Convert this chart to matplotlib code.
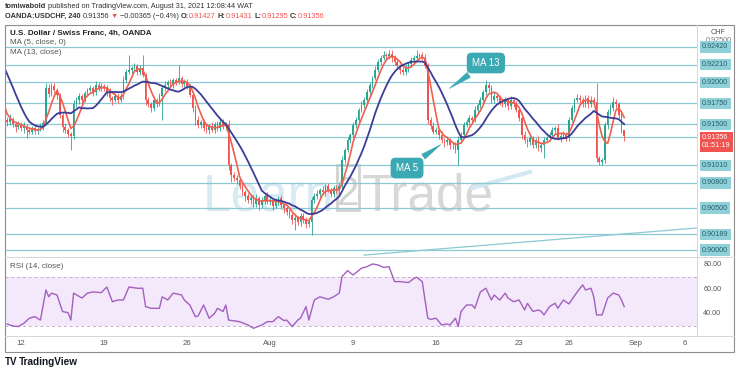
import numpy as np
import pandas as pd
import matplotlib
matplotlib.use("Agg")
import matplotlib.pyplot as plt
from matplotlib.transforms import blended_transform_factory
from matplotlib.lines import Line2D
from matplotlib.patches import Rectangle

plt.rcParams['font.family'] = ['Liberation Sans', 'DejaVu Sans']

# 4h closes, one row per trading day (6 candles). Jul 7-8 only feed the MAs.
closes = [
    [0.92527, 0.92551, 0.92503, 0.92527, 0.92479, 0.92444],  # Jul 7
    [0.92360, 0.92241, 0.92026, 0.91788, 0.91669, 0.91573],  # Jul 8
    [0.91550, 0.91526, 0.91562, 0.91502, 0.91466, 0.91490],  # Jul 9
    [0.91454, 0.91478, 0.91430, 0.91407, 0.91454, 0.91418],  # Jul 12
    [0.91442, 0.91478, 0.91514, 0.91931, 0.91860, 0.91955],  # Jul 13
    [0.91907, 0.91848, 0.91609, 0.91466, 0.91430, 0.91383],  # Jul 14
    [0.91359, 0.91740, 0.91788, 0.91836, 0.91788, 0.91871],  # Jul 15
    [0.91907, 0.91931, 0.91883, 0.91967, 0.91931, 0.91955],  # Jul 16
    [0.91931, 0.91883, 0.91812, 0.91788, 0.91836, 0.91788],  # Jul 19
    [0.91836, 0.92026, 0.92122, 0.92146, 0.92169, 0.92193],  # Jul 20
    [0.92122, 0.92169, 0.92086, 0.91788, 0.91740, 0.91693],  # Jul 21
    [0.91788, 0.91740, 0.91836, 0.91931, 0.91967, 0.92003],  # Jul 22
    [0.91979, 0.92026, 0.92003, 0.92050, 0.91979, 0.92003],  # Jul 23
    [0.91955, 0.91848, 0.91693, 0.91550, 0.91490, 0.91526],  # Jul 26
    [0.91454, 0.91430, 0.91478, 0.91430, 0.91502, 0.91454],  # Jul 27
    [0.91526, 0.91478, 0.91502, 0.91013, 0.90894, 0.90858],  # Jul 28
    [0.90834, 0.90763, 0.90691, 0.90644, 0.90596, 0.90620],  # Jul 29
    [0.90548, 0.90620, 0.90536, 0.90596, 0.90644, 0.90572],  # Jul 30
    [0.90596, 0.90524, 0.90572, 0.90620, 0.90536, 0.90501],  # Aug 2
    [0.90453, 0.90417, 0.90358, 0.90381, 0.90334, 0.90405],  # Aug 3
    [0.90358, 0.90310, 0.90334, 0.90596, 0.90644, 0.90668],  # Aug 4
    [0.90715, 0.90691, 0.90763, 0.90715, 0.90668, 0.90739],  # Aug 5
    [0.90715, 0.90763, 0.91073, 0.91192, 0.91311, 0.91371],  # Aug 6
    [0.91490, 0.91550, 0.91669, 0.91728, 0.91788, 0.91883],  # Aug 9
    [0.91967, 0.92050, 0.92146, 0.92241, 0.92289, 0.92324],  # Aug 10
    [0.92312, 0.92336, 0.92289, 0.92241, 0.92193, 0.92146],  # Aug 11
    [0.92122, 0.92169, 0.92217, 0.92265, 0.92289, 0.92312],  # Aug 12
    [0.92324, 0.92289, 0.92193, 0.91550, 0.91478, 0.91407],  # Aug 13
    [0.91430, 0.91371, 0.91311, 0.91287, 0.91311, 0.91252],  # Aug 16
    [0.91252, 0.91192, 0.91311, 0.91371, 0.91490, 0.91526],  # Aug 17
    [0.91573, 0.91550, 0.91669, 0.91728, 0.91788, 0.91883],  # Aug 18
    [0.91967, 0.91931, 0.91788, 0.91836, 0.91812, 0.91764],  # Aug 19
    [0.91740, 0.91788, 0.91716, 0.91788, 0.91740, 0.91669],  # Aug 20
    [0.91573, 0.91371, 0.91311, 0.91287, 0.91335, 0.91252],  # Aug 23
    [0.91311, 0.91216, 0.91252, 0.91311, 0.91335, 0.91371],  # Aug 24
    [0.91430, 0.91454, 0.91335, 0.91359, 0.91383, 0.91335],  # Aug 25
    [0.91550, 0.91693, 0.91788, 0.91812, 0.91788, 0.91740],  # Aug 26
    [0.91812, 0.91740, 0.91788, 0.91764, 0.91097, 0.91049],  # Aug 27
    [0.91073, 0.91490, 0.91645, 0.91693, 0.91764, 0.91740],  # Aug 30
    [0.91609, 0.91427, 0.91356],                             # Aug 31
]

# wick lengths in pips above / below the candle body
wick_up = [
    [4, 3, 5, 2, 3, 4], [3, 4, 2, 5, 3, 4], [4, 3, 6, 2, 3, 5], [3, 5, 2, 4, 3, 2],
    [2, 4, 3, 6, 5, 3], [4, 3, 2, 3, 5, 2], [2, 5, 3, 4, 2, 3], [3, 4, 2, 5, 3, 4],
    [2, 3, 5, 2, 4, 3], [3, 5, 4, 18, 3, 4], [3, 4, 15, 2, 4, 3], [3, 2, 4, 3, 5, 2],
    [4, 3, 2, 15, 3, 4], [3, 2, 4, 3, 5, 2], [4, 6, 3, 5, 2, 4], [3, 4, 2, 5, 3, 4],
    [4, 3, 5, 2, 4, 3], [3, 5, 2, 4, 3, 5], [4, 3, 5, 2, 4, 3], [3, 4, 2, 5, 3, 4],
    [4, 3, 5, 4, 3, 5], [3, 5, 2, 4, 3, 4], [4, 3, 5, 3, 4, 2], [3, 4, 2, 5, 3, 4],
    [4, 3, 5, 4, 3, 5], [3, 5, 5, 3, 4, 2], [3, 4, 2, 4, 3, 7], [3, 4, 5, 4, 3, 5],
    [4, 3, 5, 3, 4, 3], [3, 4, 5, 3, 4, 3], [4, 3, 5, 2, 4, 3], [6, 4, 3, 5, 3, 4],
    [3, 4, 2, 5, 3, 4], [4, 3, 5, 2, 4, 3], [3, 5, 2, 4, 3, 4], [4, 3, 5, 3, 4, 2],
    [3, 4, 2, 5, 3, 4], [4, 3, 5, 3, 23, 2], [2, 4, 3, 5, 6, 4], [3, 4, 0.4],
]
wick_dn = [
    [3, 5, 2, 4, 3, 6], [6, 8, 5, 4, 3, 5], [3, 5, 4, 3, 6, 2], [4, 6, 10, 3, 2, 4],
    [3, 2, 5, 2, 4, 3], [3, 5, 4, 6, 3, 4], [17, 4, 3, 5, 3, 2], [4, 2, 5, 3, 4, 3],
    [4, 5, 3, 6, 2, 4], [2, 4, 3, 2, 5, 3], [4, 3, 2, 6, 3, 5], [3, 4, 2, 29, 3, 4],
    [3, 5, 4, 2, 3, 4], [4, 3, 5, 6, 3, 4], [3, 4, 5, 2, 4, 3], [4, 3, 5, 6, 8, 4],
    [5, 4, 3, 6, 4, 5], [4, 3, 6, 3, 5, 2], [3, 5, 2, 4, 3, 6], [4, 3, 5, 12, 3, 5],
    [3, 5, 4, 15, 4, 3], [4, 3, 5, 2, 4, 3], [3, 5, 4, 3, 2, 4], [4, 3, 5, 2, 4, 3],
    [3, 4, 2, 3, 4, 3], [4, 3, 5, 4, 3, 5], [4, 3, 5, 3, 4, 3], [4, 3, 2, 5, 4, 3],
    [3, 5, 4, 6, 3, 5], [5, 4, 18, 3, 4, 2], [3, 4, 2, 5, 3, 4], [3, 5, 4, 3, 4, 3],
    [4, 3, 5, 3, 4, 2], [3, 5, 4, 6, 3, 4], [4, 3, 5, 15, 3, 4], [3, 4, 2, 5, 3, 4],
    [4, 3, 5, 2, 4, 3], [3, 5, 4, 3, 5, 4], [3, 3, 5, 4, 3, 5], [4, 3, 6.1],
]
first_bar = -18  # bar index of the first close (0 = Jul 12 00:00)

# RSI(14)
rsi_bar = [-5, -3, -1, 1, 3, 5, 7, 9, 10, 11, 13, 15, 17, 18, 19, 22, 24, 26, 29, 31,
           33, 35, 37, 39, 42, 44, 45, 47, 50, 51, 53, 55, 58, 59, 61, 63, 64, 66, 68, 70,
           71, 73, 74, 75, 79, 82, 84, 87, 89, 91, 93, 95, 96, 98, 100, 101, 103, 104, 106, 108,
           111, 113, 115, 116, 118, 120, 123, 125, 127, 129, 131, 133, 135, 137, 140, 142, 143, 145, 147, 148,
           150, 152, 154, 155, 157, 158, 159, 161, 163, 164, 166, 168, 170, 171, 173, 175, 176, 178, 180, 182,
           183, 185, 187, 188, 189, 191, 193, 194, 196, 198, 199, 201, 203, 204, 206, 207, 208, 210, 212, 214,
           216, 217, 218]
rsi_val = [31.8, 30.2, 29.7, 32.4, 36.5, 37.8, 35.0, 59.6, 54.0, 57.0, 55.5, 42.0, 41.0, 35.0, 57.0, 53.0, 57.0, 58.0, 57.4, 62.0,
           50.0, 51.4, 51.4, 62.0, 61.0, 61.0, 46.0, 44.6, 44.6, 54.0, 51.4, 57.0, 55.5, 51.4, 47.3, 37.8, 38.4, 47.3, 36.5, 40.6,
           44.6, 42.0, 47.3, 35.0, 33.7, 31.0, 28.3, 31.0, 33.7, 33.7, 37.8, 34.6, 35.0, 29.7, 35.0, 36.5, 46.0, 35.0, 51.4, 54.0,
           52.0, 54.0, 57.0, 70.5, 75.4, 71.8, 77.3, 78.6, 80.8, 80.0, 78.0, 78.6, 66.4, 66.4, 65.6, 69.0, 70.0, 66.4, 36.5, 35.6,
           36.5, 31.0, 31.8, 31.0, 36.5, 29.7, 42.0, 47.3, 47.3, 44.6, 58.0, 61.0, 51.4, 55.5, 51.4, 57.0, 53.0, 50.0, 51.4, 43.3,
           48.7, 42.0, 43.3, 42.0, 39.2, 46.0, 48.7, 44.6, 51.4, 48.2, 51.4, 58.0, 63.7, 59.6, 61.0, 54.0, 39.2, 39.2, 53.0, 57.0,
           55.5, 51.4, 46.0]

# horizontal levels drawn on the chart (0.91350 tag is hidden under the last-price tag)
levels = [0.92420, 0.92210, 0.92000, 0.91750, 0.91500, 0.91350, 0.91010, 0.90800, 0.90500, 0.90189, 0.90000]
tagged_levels = [0.92420, 0.92210, 0.92000, 0.91750, 0.91500, 0.91010, 0.90800, 0.90500, 0.90189, 0.90000]
trend_bar = [124, 244]
trend_price = [0.89940, 0.90262]

tick_bar = [0, 30, 60, 90, 120, 150, 180, 198, 222, 240]
tick_text = ['12', '19', '26', 'Aug', '9', '16', '23', '26', 'Sep', '6']
rsi_ticks = [80, 60, 40]

UP = '#2aa58e'
DOWN = '#ef5350'
MA5_C = '#f0604f'
MA13_C = '#3c3d98'
LEVEL_C = '#8ccad3'
TAG_C = '#8fd0d9'
TEAL = '#3aa9b4'
RSI_C = '#a260bf'

# ---- derived OHLC + indicators
close = np.concatenate([np.array(d, float) for d in closes])
bars = np.arange(len(close)) + first_bar
opens = np.r_[close[0], close[:-1]]
high = np.maximum(opens, close) + np.concatenate([np.array(d, float) for d in wick_up]) * 1e-4
low = np.minimum(opens, close) - np.concatenate([np.array(d, float) for d in wick_dn]) * 1e-4
ma5 = pd.Series(close).rolling(5).mean()
ma13 = pd.Series(close).rolling(13).mean()
last = close[-1]

W, H = 740, 373
fig = plt.figure(figsize=(W / 100, H / 100), dpi=100)


def fx(px):
    return px / W


def fy(py):
    return 1 - py / H


ax = fig.add_axes([fx(5), fy(257), fx(697) - fx(5), fy(25) - fy(257)])
ax_rsi = fig.add_axes([fx(5), fy(336), fx(697) - fx(5), fy(257) - fy(336)], sharex=ax)
for a in (ax, ax_rsi):
    for sp in a.spines.values():
        sp.set_visible(False)
    a.tick_params(left=False, labelleft=False, bottom=False)
ax.tick_params(labelbottom=False)
ax.set_xlim(-5.8, 244.3)
ax.set_ylim(0.89917, 0.92682)

# levels + trend line
for lv in levels:
    ax.axhline(lv, color=LEVEL_C, lw=0.9, zorder=1)
ax.plot(trend_bar, trend_price, color=LEVEL_C, lw=0.9, zorder=1)

# watermark
ax.text(fx(334), fy(210), 'Learn', transform=fig.transFigure, fontsize=37,
        color='#d8eaf2', ha='right', va='baseline', zorder=0.5)
ax.add_patch(Rectangle((fx(337), fy(210)), fx(22), fy(165) - fy(210), transform=fig.transFigure,
                       fill=False, ec='#d2d2d2', lw=2.0, zorder=0.5))
ax.text(fx(348), fy(205), '2', transform=fig.transFigure, fontsize=29,
        color='#d2d2d2', ha='center', va='baseline', zorder=0.5)
ax.text(fx(362), fy(210), 'Trade', transform=fig.transFigure, fontsize=37,
        color='#d8d8d8', ha='left', va='baseline', zorder=0.5)
ax.add_artist(Line2D([fx(472), fx(530)], [fy(188), fy(172)], transform=fig.transFigure,
                     color='#d3e8f1', lw=3, zorder=0.5))

# candles
col = np.where(close >= opens, UP, DOWN)
ax.vlines(bars, low, high, colors=col, lw=0.6, zorder=3)
ax.bar(bars, np.maximum(np.abs(close - opens), 0.00002), bottom=np.minimum(opens, close),
       width=0.62, color=col, linewidth=0, zorder=3)
ax.plot(bars, ma5, color=MA5_C, lw=1.2, zorder=4)
ax.plot(bars, ma13, color=MA13_C, lw=1.3, zorder=4)

# callouts
ax.annotate('MA 13', xy=(154, 0.91907), xytext=(168, 0.92229), color='white', fontsize=7,
            ha='center', va='center', zorder=6,
            bbox=dict(boxstyle='round,pad=0.55,rounding_size=0.5', fc=TEAL, ec='none'),
            arrowprops=dict(arrowstyle='wedge,tail_width=0.6', fc=TEAL, ec=TEAL, lw=0.4))
ax.annotate('MA 5', xy=(152.5, 0.91275), xytext=(139.5, 0.90977), color='white', fontsize=7,
            ha='center', va='center', zorder=6,
            bbox=dict(boxstyle='round,pad=0.55,rounding_size=0.5', fc=TEAL, ec='none'),
            arrowprops=dict(arrowstyle='wedge,tail_width=0.6', fc=TEAL, ec=TEAL, lw=0.4))

# price scale tags
tr = blended_transform_factory(ax.transAxes, ax.transData)
ax.text(1.031, 0.92500, '0.92500', transform=tr, fontsize=5.2, color='#777777', ha='center',
        va='center', clip_on=False)
for lv in tagged_levels:
    ax.text(1.0075, lv, f'{lv:.5f}', transform=tr, fontsize=5.2, color='#25606a', ha='left',
            va='center', clip_on=False, zorder=6,
            bbox=dict(boxstyle='square,pad=0.3', fc=TAG_C, ec='none'))
ax.annotate(f'{last:.5f}\n01:51:19', xy=(1.0075, last), xycoords=tr, xytext=(0, -4),
            textcoords='offset points', fontsize=5.2, color='white', ha='left', va='center',
            linespacing=1.25, annotation_clip=False, zorder=7,
            bbox=dict(boxstyle='square,pad=0.3', fc='#f05350', ec='none'))
fig.text(fx(718), fy(32), 'CHF', fontsize=5.2, color='#555555', ha='center', va='center')

# RSI pane
ax_rsi.set_ylim(22.0, 86.5)
ax_rsi.axhspan(30, 70, color='#f4e8fb', lw=0, zorder=0)
for v in (70, 30):
    ax_rsi.axhline(v, color='#c3b1c9', lw=0.7, ls=(0, (3, 3)), zorder=1)
ax_rsi.plot(rsi_bar, rsi_val, color=RSI_C, lw=1.0, zorder=3)
tr2 = blended_transform_factory(ax_rsi.transAxes, ax_rsi.transData)
for v in rsi_ticks:
    ax_rsi.text(1.022, v, f'{v:.2f}', transform=tr2, fontsize=5.2, color='#555555',
                ha='center', va='center', clip_on=False)
ax_rsi.set_xticks(tick_bar)
ax_rsi.set_xticklabels(tick_text, fontsize=5.6, color='#555555')
ax_rsi.tick_params(axis='x', length=0, pad=3)

# frame and pane separators
fig.add_artist(Rectangle((fx(5), fy(352)), fx(734) - fx(5), fy(25) - fy(352),
                         transform=fig.transFigure, fill=False, ec='#8e8e8e', lw=0.8))
for (x0, y0, x1, y1) in [(697, 25, 697, 336), (5, 257, 734, 257), (5, 336, 734, 336)]:
    fig.add_artist(Line2D([fx(x0), fx(x1)], [fy(y0), fy(y1)], transform=fig.transFigure,
                          color='#d6d6d6', lw=0.7))


def text_run(x, y, parts, size):
    s, c, w, _ = parts[0]
    prev = fig.text(fx(x), fy(y), s, color=c, fontweight=w, fontsize=size, va='center', ha='left')
    for s, c, w, gap in parts[1:]:
        prev = ax.annotate(s, xy=(1, 0.5), xycoords=prev, xytext=(gap, 0), textcoords='offset points',
                           va='center', ha='left', color=c, fontweight=w, fontsize=size,
                           annotation_clip=False)


DARK = '#333333'
RED = '#ef5350'
text_run(5, 6, [('tomiwabold', DARK, 'bold', 0),
                ('published on TradingView.com, August 31, 2021 12:08:44 WAT', DARK, 'normal', 1.3)], 5.3)
text_run(5, 16, [('OANDA:USDCHF, 240', DARK, 'bold', 0), ('0.91356', DARK, 'normal', 1.5),
                 ('▼', RED, 'normal', 1.2), ('−0.00365 (−0.4%)', DARK, 'normal', 1.2),
                 ('O:', DARK, 'bold', 1.5), ('0.91427', RED, 'normal', 0),
                 ('H:', DARK, 'bold', 1.5), ('0.91431', RED, 'normal', 0),
                 ('L:', DARK, 'bold', 1.5), ('0.91295', RED, 'normal', 0),
                 ('C:', DARK, 'bold', 1.5), ('0.91356', RED, 'normal', 0)], 5.3)

fig.text(fx(10), fy(33), 'U.S. Dollar / Swiss Franc, 4h, OANDA', fontsize=5.8, color='#222222',
         fontweight='bold', va='center')
fig.text(fx(10), fy(43), 'MA (5, close, 0)', fontsize=5.8, color='#555555', va='center')
fig.text(fx(10), fy(53), 'MA (13, close)', fontsize=5.8, color='#555555', va='center')
fig.text(fx(10), fy(266), 'RSI (14, close)', fontsize=5.8, color='#555555', va='center')

fig.text(fx(5), fy(362), 'TV', fontsize=7, color='#131722', fontweight='bold', va='center')
fig.text(fx(19), fy(362), 'TradingView', fontsize=7.2, color='#131722', fontweight='bold', va='center')

fig.savefig('out.png', dpi=100)
